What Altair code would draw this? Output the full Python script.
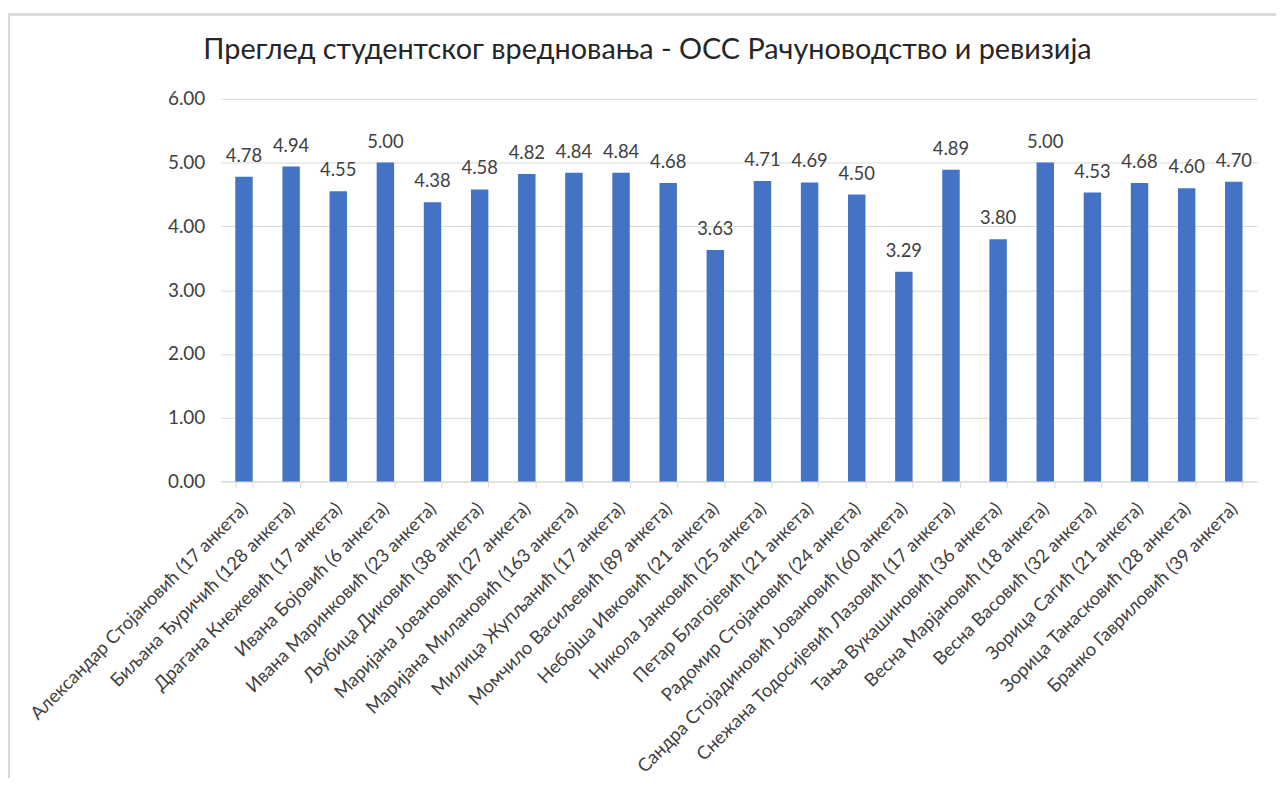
import altair as alt
import pandas as pd

names = [
    "Александар Стојановић (17 анкета)",
    "Биљана Ђуричић (128 анкета)",
    "Драгана Кнежевић (17 анкета)",
    "Ивана Бојовић (6 анкета)",
    "Ивана Маринковић (23 анкета)",
    "Љубица Диковић (38 анкета)",
    "Маријана Јовановић (27 анкета)",
    "Маријана Милановић (163 анкета)",
    "Милица Жупљанић (17 анкета)",
    "Момчило Васиљевић (89 анкета)",
    "Небојша Ивковић (21 анкета)",
    "Никола Јанковић (25 анкета)",
    "Петар Благојевић (21 анкета)",
    "Радомир Стојановић (24 анкета)",
    "Сандра Стојадиновић Јовановић (60 анкета)",
    "Снежана Тодосијевић Лазовић (17 анкета)",
    "Тања Вукашиновић (36 анкета)",
    "Весна Марјановић (18 анкета)",
    "Весна Васовић (32 анкета)",
    "Зорица Сагић (21 анкета)",
    "Зорица Танасковић (28 анкета)",
    "Бранко Гавриловић (39 анкета)",
]
scores = [4.78, 4.94, 4.55, 5.00, 4.38, 4.58, 4.82, 4.84, 4.84, 4.68, 3.63,
          4.71, 4.69, 4.50, 3.29, 4.89, 3.80, 5.00, 4.53, 4.68, 4.60, 4.70]

df = pd.DataFrame({"name": names, "score": scores})

FONT = "Lato"

x = alt.X("name:N", sort=None, title=None,
          scale=alt.Scale(paddingInner=0.63, paddingOuter=0.31),
          axis=alt.Axis(labelAngle=-45, labelAlign="right", labelBaseline="middle",
                        labelFontSize=18.5, labelFont=FONT, labelColor="#404040",
                        labelPadding=18, labelLimit=0,
                        domainColor="#d9d9d9", tickColor="#d9d9d9", tickSize=6,
                        tickBand="extent", grid=False))
y = alt.Y("score:Q", title=None,
          scale=alt.Scale(domain=[0, 6], nice=False),
          axis=alt.Axis(values=[0, 1, 2, 3, 4, 5, 6], format=".2f",
                        labelFontSize=19, labelFont=FONT, labelColor="#404040",
                        labelPadding=16, domain=False, ticks=False,
                        gridColor="#d9d9d9", gridWidth=1))

frame = alt.Chart(df).mark_rect(fill=None, stroke="#d9d9d9", strokeWidth=1.5).encode(
    x=alt.value(-213), x2=alt.value(1100), y=alt.value(-85), y2=alt.value(800))
bars = alt.Chart(df).mark_bar(color="#4472C4").encode(x=x, y=y)
text = alt.Chart(df).mark_text(dy=-21, fontSize=18.5, font=FONT, color="#404040").encode(
    x=alt.X("name:N", sort=None), y="score:Q", text=alt.Text("score:Q", format=".2f"))

chart = alt.layer(frame, bars, text).properties(
    width=1043, height=385,
    autosize=alt.AutoSizeParams(type="none"),
    padding={"left": 214, "top": 89, "right": 19, "bottom": 296},
    title=alt.TitleParams("Преглед студентског вредновања - ОСС Рачуноводство и ревизија",
                          font=FONT, fontSize=29, fontWeight="normal", color="#262626",
                          anchor="middle", dx=-92, offset=-52),
).configure_view(stroke=None)

chart.save("out.html", embed_options={"renderer": "svg", "actions": False})
